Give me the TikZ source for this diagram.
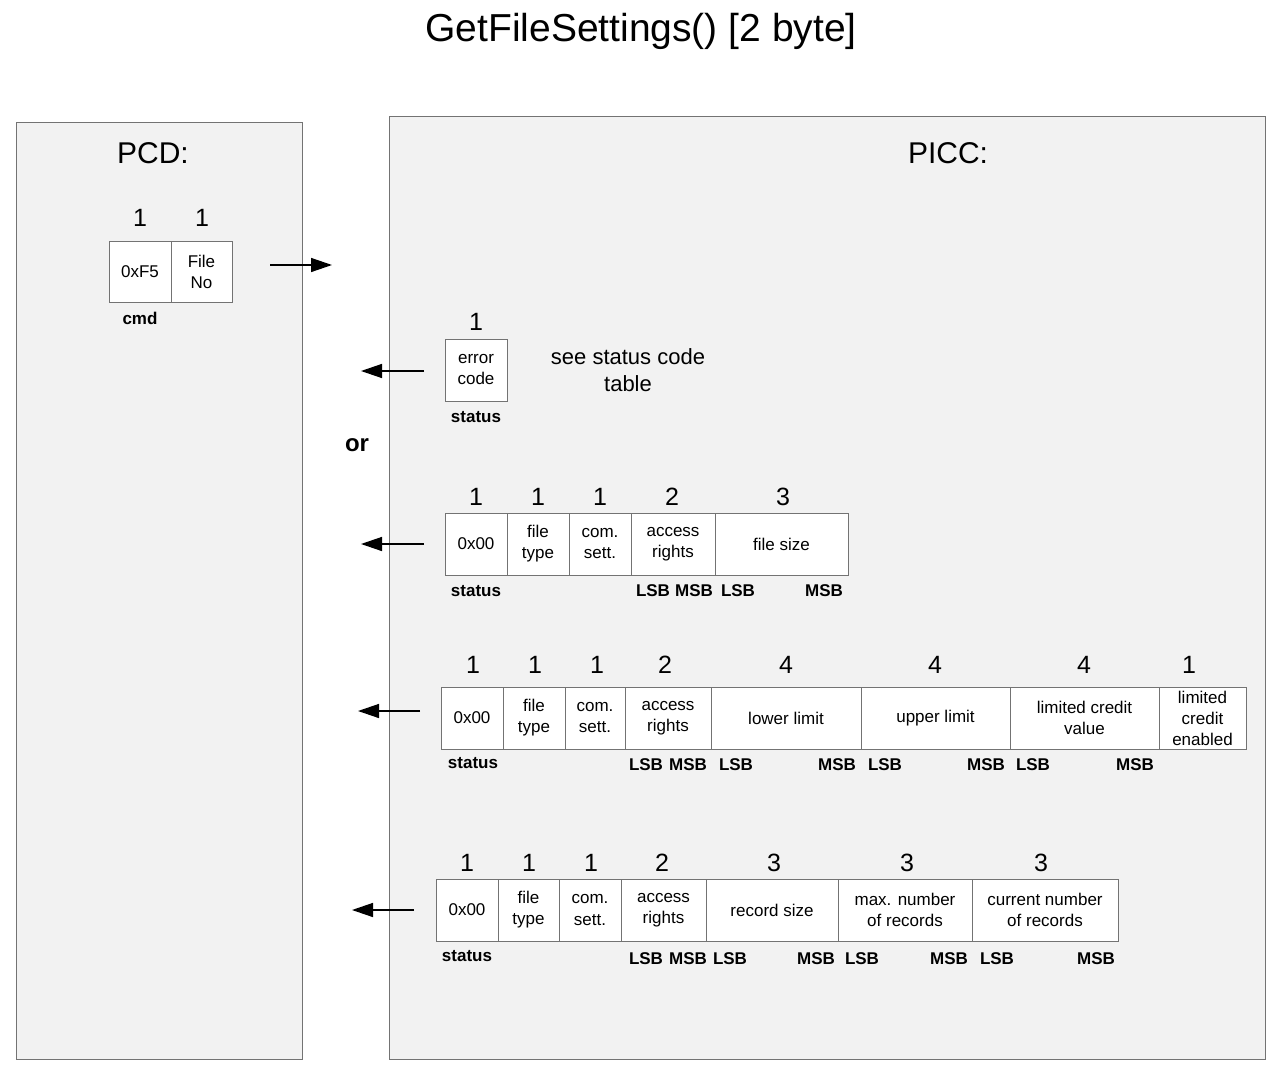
\documentclass[tikz,border=0pt]{standalone}
\usepackage{fontspec}
\setmainfont{Liberation Sans}
\usetikzlibrary{arrows.meta}
\tikzset{
  panel/.style={draw=black!55, fill=black!5, line width=0.9pt},
  fld/.style={draw=black!55, fill=white, line width=0.9pt, inner sep=0pt, align=center, font=\fontsize{17}{21}\selectfont},
  num/.style={inner sep=0pt, font=\fontsize{25}{28}\selectfont},
  lbl/.style={inner sep=0pt, font=\fontsize{17}{20}\selectfont\bfseries},
  hdr/.style={inner sep=0pt, font=\fontsize{30}{34}\selectfont},
  msg/.style={-{Triangle[length=21pt,width=14pt]}, line width=1.4pt},
}
\newcommand{\fld}[6]{\node[fld, minimum width={(#3-#2)*1pt}, minimum height={(#5-#4)*1pt}] (#1) at ({(#2+#3)/2},{(#4+#5)/2}) {#6};}
\begin{document}
\begin{tikzpicture}[x=1pt,y=-1pt]
\useasboundingbox (0,0) rectangle (1277,1070);
% title
\node[inner sep=0pt, font=\fontsize{39}{44}\selectfont] (title) at (641,31) {GetFileSettings() [2 byte]};
% panels
\draw[panel] (16,122) rectangle (302,1059);
\draw[panel] (389,116) rectangle (1265,1059);
\node[hdr] (pcd) at (153,153) {PCD:};
\node[hdr] (picc) at (948,153) {PICC:};
% PCD command
\fld{cmdA}{109}{171}{241}{302}{0xF5}
\fld{cmdB}{171}{232}{241}{302}{File\\No}
\node[num] (n0a) at (140,218) {1};
\node[num] (n0b) at (202,218) {1};
\node[lbl] (cmdl) at (140,318) {cmd};
\coordinate (s0) at (270,265);
\coordinate (e0) at (332,265);
\draw[msg] (s0) -- (e0);
% error response
\fld{err}{445}{507}{339}{401}{error\\code}
\node[num] (n1) at (476,322) {1};
\node[lbl] (st1) at (476,417) {status};
\node[inner sep=0pt, align=center, font=\fontsize{22}{27}\selectfont] (see) at (628,370) {see status code\\table};
\coordinate (s1) at (424,371);
\coordinate (e1) at (361,371);
\draw[msg] (s1) -- (e1);
\node[inner sep=0pt, font=\fontsize{24}{28}\selectfont\bfseries] (or) at (357,445) {or};
% row 2
\fld{a1}{445}{507}{513}{575}{0x00}
\fld{a2}{507}{569}{513}{575}{file\\type}
\fld{a3}{569}{631}{513}{575}{com.\\sett.}
\fld{a4}{631}{715}{513}{575}{access\\rights}
\fld{a5}{715}{848}{513}{575}{file size}
\foreach \x/\t [count=\i] in {476/1,538/1,600/1,672/2,783/3} \node[num] (na\i) at (\x,497) {\t};
\node[lbl] (sta) at (476,591) {status};
\foreach \x/\t [count=\i] in {653/LSB,694/MSB,738/LSB,824/MSB} \node[lbl] (la\i) at (\x,591) {\t};
\coordinate (s2) at (424,544);
\coordinate (e2) at (361,544);
\draw[msg] (s2) -- (e2);
% row 3
\fld{b1}{441}{503}{687}{749}{0x00}
\fld{b2}{503}{565}{687}{749}{file\\type}
\fld{b3}{565}{625}{687}{749}{com.\\sett.}
\fld{b4}{625}{711}{687}{749}{access\\rights}
\fld{b5}{711}{861}{687}{749}{lower limit}
\fld{b6}{861}{1010}{687}{749}{upper limit}
\fld{b7}{1010}{1159}{687}{749}{limited credit\\value}
\fld{b8}{1159}{1246}{687}{749}{limited\\credit\\enabled}
\foreach \x/\t [count=\i] in {473/1,535/1,597/1,665/2,786/4,935/4,1084/4,1189/1} \node[num] (nb\i) at (\x,665) {\t};
\node[lbl] (stb) at (473,763) {status};
\foreach \x/\t [count=\i] in {646/LSB,688/MSB,736/LSB,837/MSB,885/LSB,986/MSB,1033/LSB,1135/MSB} \node[lbl] (lb\i) at (\x,765) {\t};
\coordinate (s3) at (420,711);
\coordinate (e3) at (358,711);
\draw[msg] (s3) -- (e3);
% row 4
\fld{c1}{436}{498}{879}{941}{0x00}
\fld{c2}{498}{559}{879}{941}{file\\type}
\fld{c3}{559}{621}{879}{941}{com.\\sett.}
\fld{c4}{621}{706}{879}{941}{access\\rights}
\fld{c5}{706}{838}{879}{941}{record size}
\fld{c6}{838}{972}{879}{941}{max. number\\of records}
\fld{c7}{972}{1118}{879}{941}{current number\\of records}
\foreach \x/\t [count=\i] in {467/1,529/1,591/1,662/2,774/3,907/3,1041/3} \node[num] (nc\i) at (\x,863) {\t};
\node[lbl] (stc) at (467,956) {status};
\foreach \x/\t [count=\i] in {646/LSB,688/MSB,730/LSB,816/MSB,862/LSB,949/MSB,997/LSB,1096/MSB} \node[lbl] (lc\i) at (\x,959) {\t};
\coordinate (s4) at (414,910);
\coordinate (e4) at (352,910);
\draw[msg] (s4) -- (e4);
\end{tikzpicture}
\end{document}
